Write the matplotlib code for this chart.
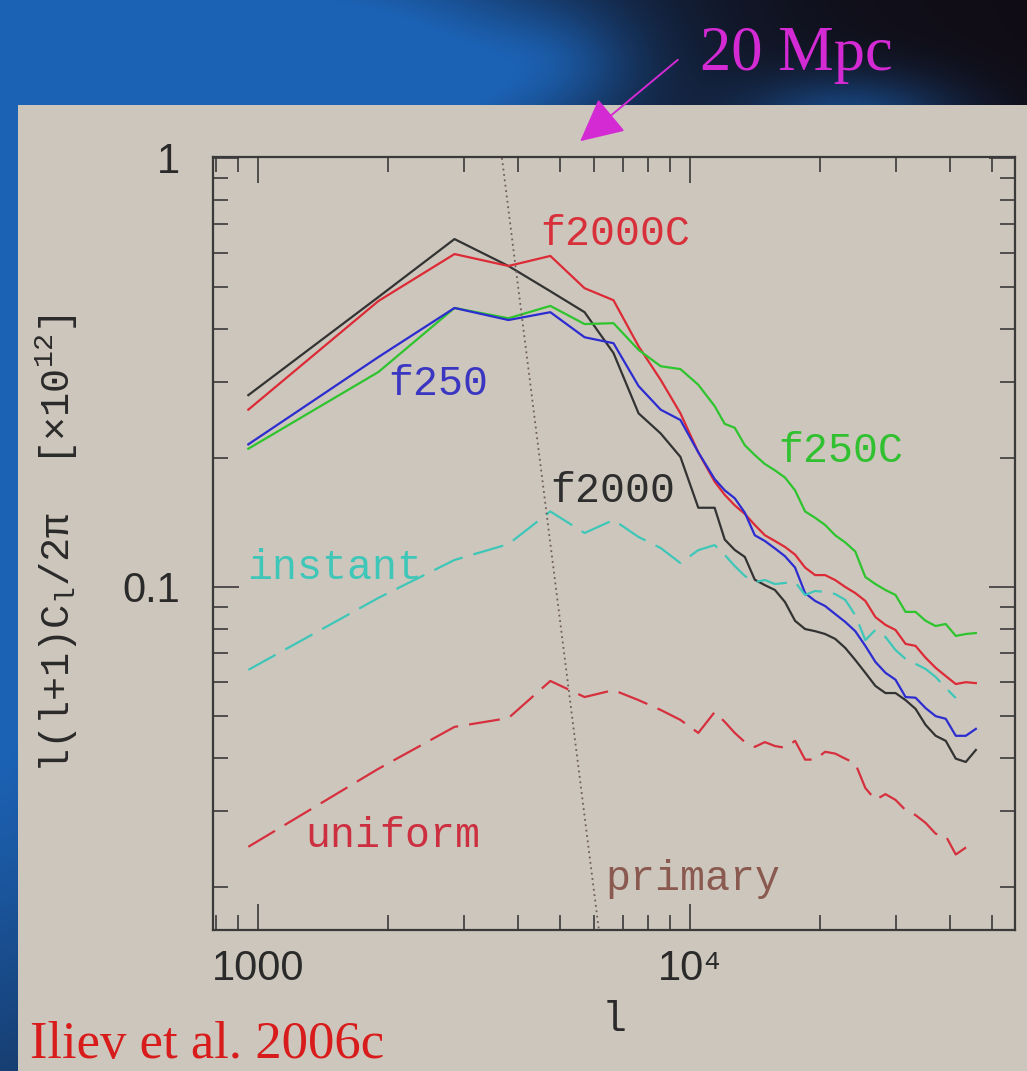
import numpy as np
import matplotlib
matplotlib.use("Agg")
import matplotlib.pyplot as plt
from matplotlib.patches import Rectangle, FancyArrowPatch
from matplotlib.ticker import FixedLocator, FixedFormatter, LogLocator, NullFormatter

plt.rcParams['mathtext.fontset'] = 'custom'
plt.rcParams['mathtext.rm'] = 'Liberation Mono'
plt.rcParams['mathtext.it'] = 'Liberation Mono'

# ---- data -------------------------------------------------------------
ell = [950, 1900, 2850, 3800, 4750, 5700, 6650, 7600, 8550, 9500, 10450, 11400,
       12030, 12690, 13390, 14120, 14900, 15720, 16580, 17500, 18460, 19470,
       20540, 21670, 22870, 24120, 25450, 26850, 28330, 29890, 31530, 33260,
       35090, 37020, 39060, 41210, 43470, 45860]

f2000 = [0.280, 0.474, 0.647, 0.560, 0.489, 0.437, 0.351, 0.254, 0.228, 0.201, 0.153, 0.153,
         0.129, 0.122, 0.1175, 0.104, 0.101, 0.0984, 0.0923, 0.0834, 0.0798, 0.0789,
         0.0777, 0.0757, 0.0721, 0.0676, 0.0631, 0.0588, 0.0566, 0.0566, 0.0545, 0.0520,
         0.0477, 0.0450, 0.0438, 0.0398, 0.0391, 0.0417]

f2000C = [0.259, 0.464, 0.597, 0.560, 0.591, 0.497, 0.466, 0.364, 0.304, 0.254, 0.206, 0.176,
          0.164, 0.155, 0.148, 0.1395, 0.132, 0.128, 0.124, 0.119, 0.111, 0.1066,
          0.1066, 0.1038, 0.100, 0.0968, 0.0928, 0.0851, 0.0816, 0.0794, 0.0737, 0.0729,
          0.0684, 0.0648, 0.0620, 0.0594, 0.0600, 0.0597]

f250C = [0.210, 0.317, 0.447, 0.423, 0.452, 0.410, 0.412, 0.357, 0.327, 0.322, 0.296, 0.264,
         0.240, 0.235, 0.214, 0.203, 0.1935, 0.187, 0.180, 0.168, 0.150, 0.145,
         0.1395, 0.132, 0.127, 0.121, 0.1055, 0.1016, 0.0984, 0.0958, 0.0875, 0.0875,
         0.0834, 0.0811, 0.0820, 0.0769, 0.0777, 0.0781]

f250 = [0.215, 0.3435, 0.447, 0.419, 0.437, 0.382, 0.370, 0.294, 0.259, 0.245, 0.206, 0.1785,
        0.168, 0.161, 0.149, 0.132, 0.128, 0.123, 0.118, 0.111, 0.0968, 0.0928,
        0.0903, 0.0865, 0.0829, 0.0789, 0.0729, 0.0669, 0.0631, 0.0608, 0.0554, 0.0552,
        0.0522, 0.0500, 0.0493, 0.0450, 0.0450, 0.0467]

instant = [0.0641, 0.0943, 0.1156, 0.1259, 0.150, 0.1336, 0.1433, 0.1308, 0.1233, 0.1137, 0.1219, 0.1252,
           0.1188, 0.1119, 0.1061, 0.1027, 0.1038, 0.1016, 0.1022, 0.1027, 0.0958, 0.0979,
           0.0973, 0.0963, 0.0933, 0.0860, 0.0752, 0.0794, 0.0765, 0.0713, 0.0680, 0.0662,
           0.0644, 0.0617, 0.0582, 0.0551]

uniform = [0.0248, 0.0377, 0.0472, 0.0495, 0.0604, 0.0554, 0.0575, 0.0545, 0.0517, 0.0490, 0.0457, 0.0511,
           0.0485, 0.0457, 0.0435, 0.0424, 0.0435, 0.0426, 0.0422, 0.0438, 0.0396, 0.0396,
           0.0413, 0.0409, 0.0398, 0.0388, 0.0340, 0.0319, 0.0329, 0.0319, 0.0302, 0.0294,
           0.0282, 0.0266, 0.0263, 0.0238, 0.0247, 0.0254]

primary_ell = [3670, 6150]
primary_cl = [1.0, 0.0159]

x_ticks = [1000, 10000]
x_ticklabels = ['1000', '10\u2074']
y_ticks = [0.1, 1.0]
y_ticklabels = ['0.1', '1']

# ---- figure & slide background -----------------------------------------
W, H = 1027, 1071
fig = plt.figure(figsize=(W / 100, H / 100), dpi=100)

yy, xx = np.mgrid[0:H, 0:W]


def blob(cx, cy, sx, sy, a):
    return a * np.exp(-(((xx - cx) / sx) ** 2 + ((yy - cy) / sy) ** 2))


glow = (blob(150, 40, 400, 220, 1.0) + blob(420, 95, 180, 110, 0.55)
        + blob(0, 560, 140, 650, 1.1) + blob(850, 120, 110, 45, 0.65)
        + blob(560, 60, 80, 50, 0.25))
glow = np.clip(glow, 0, 1)[..., None]
dark = np.array([16, 12, 20]) / 255.0
blue = np.array([28, 98, 180]) / 255.0
bg = dark * (1 - glow) + blue * glow

bg_ax = fig.add_axes([0, 0, 1, 1], zorder=-5)
bg_ax.imshow(bg, aspect='auto', extent=[0, 1, 0, 1], interpolation='bilinear')
bg_ax.set_axis_off()

panel_left = 18 / W
panel_top = 1 - 105 / H
fig.add_artist(Rectangle((panel_left, 0), 1 - panel_left, panel_top,
                         transform=fig.transFigure, facecolor='#cdc6bc',
                         edgecolor='none', zorder=-4))

# ---- main axes ----------------------------------------------------------
ax = fig.add_axes([213 / W, 1 - 930 / H, (1015 - 213) / W, (930 - 157) / H], zorder=1)
ax.set_facecolor('none')
ax.set_xscale('log')
ax.set_yscale('log')
ax.set_xlim(787, 56500)
ax.set_ylim(0.01587, 1.005)

lw = 1.6
ax.plot(ell, f2000, color='#333333', lw=lw)
ax.plot(ell, f2000C, color='#dc2a36', lw=lw)
ax.plot(ell, f250C, color='#2ec42e', lw=lw)
ax.plot(ell, f250, color='#2c2cd0', lw=lw)
ax.plot(ell[:len(instant)], instant, color='#3ec6b8', lw=lw, linestyle=(0, (14, 5)))
ax.plot(ell, uniform, color='#d6303e', lw=lw, linestyle=(0, (14, 5)))
ax.plot(primary_ell, primary_cl, color='#6e5e5a', lw=1.3, linestyle=(0, (1, 2)))

mono = 'Liberation Mono'
fs = 30
ax.text(0.4077, 0.8862, 'f2000C', color='#d8303a', fontsize=fs, family=mono, transform=ax.transAxes)
ax.text(0.2182, 0.6921, 'f250', color='#3a36c2', fontsize=fs, family=mono, transform=ax.transAxes)
ax.text(0.7045, 0.6054, 'f250C', color='#30c030', fontsize=fs, family=mono, transform=ax.transAxes)
ax.text(0.4202, 0.5537, 'f2000', color='#2e2e2e', fontsize=fs, family=mono, transform=ax.transAxes)
ax.text(0.0424, 0.4541, 'instant', color='#3ec6b8', fontsize=fs, family=mono, transform=ax.transAxes)
ax.text(0.1147, 0.1074, 'uniform', color='#cc3040', fontsize=fs, family=mono, transform=ax.transAxes)
ax.text(0.4888, 0.0517, 'primary', color='#8a5a50', fontsize=fs, family=mono, transform=ax.transAxes)

# axes frame and ticks
for sp in ax.spines.values():
    sp.set_color('#3a3a3a')
    sp.set_linewidth(1.6)

ax.xaxis.set_major_locator(FixedLocator(x_ticks))
ax.xaxis.set_major_formatter(FixedFormatter(x_ticklabels))
ax.xaxis.set_minor_locator(LogLocator(base=10, subs=np.arange(2, 10)))
ax.xaxis.set_minor_formatter(NullFormatter())
ax.yaxis.set_major_locator(FixedLocator(y_ticks))
ax.yaxis.set_major_formatter(FixedFormatter(y_ticklabels))
ax.yaxis.set_minor_locator(LogLocator(base=10, subs=np.arange(2, 10)))
ax.yaxis.set_minor_formatter(NullFormatter())

ax.tick_params(which='both', direction='in', top=True, right=True, color='#3a3a3a')
ax.tick_params(which='major', length=19, width=1.2)
ax.tick_params(which='minor', length=11, width=1.2)
ax.tick_params(axis='x', which='major', pad=14, labelsize=30, labelcolor='#2a2a2a')
ax.tick_params(axis='y', which='major', pad=24, labelsize=30, labelcolor='#2a2a2a')
for lab in ax.get_xticklabels() + ax.get_yticklabels():
    lab.set_family(['Liberation Sans', 'DejaVu Sans'])

ax.set_xlabel('l', fontsize=30, family=mono, color='#2a2a2a')
ax.xaxis.set_label_coords(0.5, -0.1164)
ax.xaxis.label.set_verticalalignment('center')

ylabel_text = 'l(l+1)C$_\\mathrm{l}$/2\u03c0  [\u00d710$^{12}$]'
ax.set_ylabel(ylabel_text, fontsize=29, family=mono, color='#2a2a2a')
ax.yaxis.set_label_coords(-0.1945, 0.5)
ax.yaxis.label.set_verticalalignment('center')
ax.yaxis.label.set_horizontalalignment('center')

# ---- slide annotations --------------------------------------------------
fig.text(30 / W, 1 - 1058 / H, 'Iliev et al. 2006c', color='#d81c1c', fontsize=38,
         family='Liberation Serif', ha='left', va='baseline')
fig.text(700 / W, 1 - 70 / H, '20 Mpc', color='#d42ad4', fontsize=45,
         family='Liberation Serif', ha='left', va='baseline')
fig.add_artist(FancyArrowPatch((680 / W, 1 - 58 / H), (578 / W, 1 - 143 / H),
                               transform=fig.transFigure, arrowstyle='-|>,head_length=0.9,head_width=0.45',
                               mutation_scale=30, color='#d42ad4', lw=1.4, zorder=5))

fig.savefig('out.png', dpi=100)
